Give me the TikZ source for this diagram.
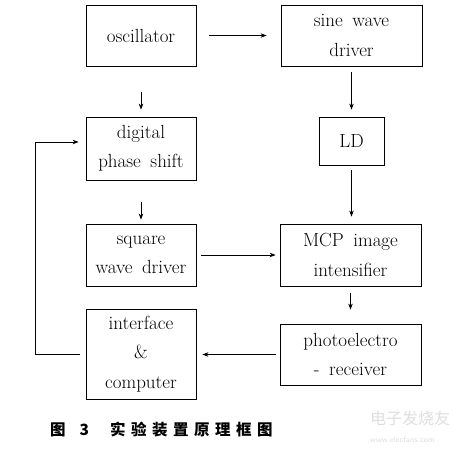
\documentclass[tikz,border=0pt]{standalone}
\usepackage{fontspec}
\newfontfamily\cjk{Noto Sans CJK SC}
\usetikzlibrary{arrows.meta}
\begin{document}
\begin{tikzpicture}[x=1pt,y=-1pt,
  box/.style={draw, line width=0.8pt, inner sep=0pt, align=center,
    font=\fontsize{19}{29.5}\selectfont},
  arr/.style={line width=0.8pt, -{Stealth[length=6pt,width=4.5pt]}},
  ln/.style={line width=0.8pt}]
\useasboundingbox (0,0) rectangle (476,456);
\node[box, minimum width=110pt, minimum height=61pt] (osc) at (141,35.5) {oscillator};
\node[box, minimum width=141pt, minimum height=61pt] (sine) at (351.5,35.5) {sine\enspace wave\\driver};
\node[box, minimum width=65pt, minimum height=48pt] (ld) at (351.5,141) {LD};
\node[box, minimum width=110pt, minimum height=63pt] (dps) at (141,148.5) {digital\\phase\enspace shift};
\node[box, minimum width=110pt, minimum height=62pt] (sq) at (141,255) {square\\wave\enspace driver};
\node[box, minimum width=141pt, minimum height=62pt] (mcp) at (350.5,255) {MCP\enspace image\\intensifier};
\node[box, minimum width=110pt, minimum height=90pt] (ic) at (141,354) {interface\\\&\\computer};
\node[box, minimum width=141pt, minimum height=61pt] (pr) at (350.5,354.5) {photoelectro\\-\enspace receiver};
\coordinate (fb) at (35,142);
\draw[arr, shorten <=13pt, shorten >=14pt] (osc.east) -- (sine.west);
\draw[arr, shorten <=6pt, shorten >=7pt] (sine.south) -- (ld.north);
\draw[arr, shorten <=5pt, shorten >=7pt] (ld.south) -- (mcp.north -| ld.south);
\draw[arr, shorten <=26pt, shorten >=7pt] (osc.south) -- (dps.north);
\draw[arr, shorten <=22pt, shorten >=4pt] (dps.south) -- (sq.north);
\draw[arr, shorten <=5pt, shorten >=4pt] (sq.east) -- (mcp.west);
\draw[arr, shorten <=7pt, shorten >=14pt] (mcp.south) -- (pr.north);
\draw[arr, shorten <=4pt, shorten >=6pt] (pr.west) -- (pr.west -| ic.east);
\draw[arr, shorten >=7pt] ([xshift=-6pt]ic.west) -| (fb) -- (fb -| dps.west);
\node[anchor=west, inner sep=0pt, font=\cjk\bfseries\fontsize{15.5}{15.5}\selectfont] (cap) at (50,430)
  {图\hspace{14pt}3\hspace{21pt}实\hspace{5.5pt}验\hspace{5.5pt}装\hspace{5.5pt}置\hspace{5.5pt}原\hspace{5.5pt}理\hspace{5.5pt}框\hspace{5.5pt}图};
\node[anchor=west, inner sep=0pt, text=black!13, font=\cjk\fontsize{16}{16}\selectfont] (wm1) at (370,418) {电子发烧友};
\node[anchor=west, inner sep=0pt, text=black!13, font=\sffamily\fontsize{8}{8}\selectfont] (wm2) at (370,440) {www.elecfans.com};
\end{tikzpicture}
\end{document}
